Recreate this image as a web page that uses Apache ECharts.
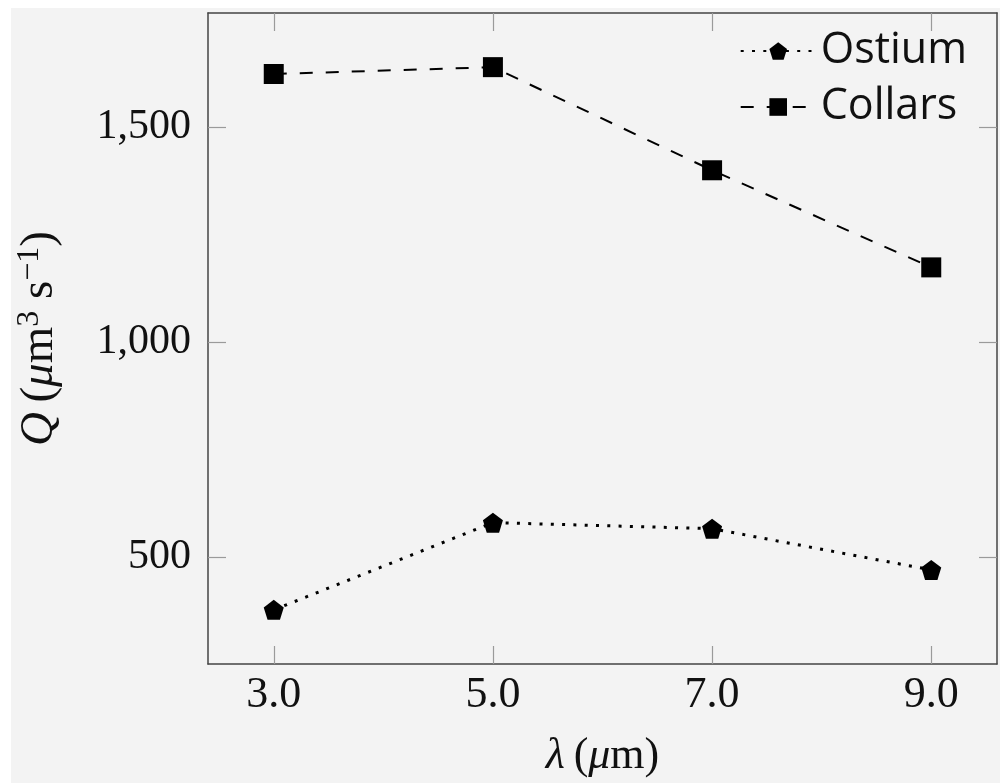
<!DOCTYPE html>
<html>
<head>
<meta charset="utf-8">
<script src="https://cdn.jsdelivr.net/npm/echarts@6/dist/echarts.min.js"></script>
<style>
html,body{margin:0;padding:0;background:#ffffff;}
#chart{width:1000px;height:783px;}
</style>
</head>
<body>
<div id="chart"></div>
<script>
// Data
const lambdaValues = [3, 5, 7, 9];
const ostium = [377, 580, 566, 470];
const collars = [1624, 1640, 1400, 1174];
const xTicks = [3, 5, 7, 9];
const yTicks = [500, 1000, 1500];
const seriesNames = ['Ostium', 'Collars'];

const pentagon = 'path://M0,-1 L0.951,-0.309 L0.588,0.809 L-0.588,0.809 L-0.951,-0.309 Z';
const serif = 'Liberation Serif';
const fmtY = v => v.toLocaleString('en-US');
const fmtX = v => Number(v).toFixed(1);

const xMin = 2.4, xMax = 9.6, yMin = 251, yMax = 1766;

function pairs(xs, ys){ return xs.map((x,i)=>[x, ys[i]]); }

const tickStyle = {show:true, inside:true, length:18, lineStyle:{color:'#9a9a9a', width:1.2}};
const lineAx = {show:true, lineStyle:{color:'#444', width:1.5}};

const chart = echarts.init(document.getElementById('chart'), null, {renderer:'canvas'});
chart.setOption({
  backgroundColor:'#ffffff',
  animation:false,
  graphic:[{type:'rect', shape:{x:11, y:8, width:989, height:775}, style:{fill:'#f3f3f3'}, z:-10, silent:true}],
  grid:{left:208, top:13, width:789, height:654, containLabel:false},
  legend:{
    data:seriesNames,
    orient:'vertical',
    right:28, top:24,
    itemWidth:75, itemHeight:22, itemGap:12,
    textStyle:{fontFamily:'Open Sans', fontSize:43, color:'#111', lineHeight:44, padding:[0,0,0,0]},
  },
  xAxis:[{
    type:'value', min:xMin, max:xMax, position:'bottom',
    axisLine:lineAx, splitLine:{show:false},
    axisTick:Object.assign({customValues:xTicks}, tickStyle),
    axisLabel:{customValues:xTicks, formatter:fmtX, fontFamily:serif, fontSize:44, color:'#111', margin:9},
    name:'{i|λ}\u2009({i|μ}m)', nameLocation:'middle', nameGap:70,
    nameTextStyle:{fontFamily:serif, fontSize:44, color:'#111', rich:{i:{fontFamily:serif, fontStyle:'italic', fontSize:44, color:'#111'}}}
  },{
    type:'value', min:xMin, max:xMax, position:'top',
    axisLine:lineAx, splitLine:{show:false},
    axisTick:Object.assign({customValues:xTicks}, tickStyle),
    axisLabel:{show:false}
  }],
  yAxis:[{
    type:'value', min:yMin, max:yMax, position:'left',
    axisLine:lineAx, splitLine:{show:false},
    axisTick:Object.assign({customValues:yTicks}, tickStyle),
    axisLabel:{customValues:yTicks, formatter:fmtY, fontFamily:serif, fontSize:42, color:'#111', margin:17},
    name:'{i|Q}\u2009({i|μ}m{s|3} s{s|−1})', nameLocation:'middle', nameGap:142, nameRotate:90,
    nameTextStyle:{fontFamily:serif, fontSize:47, color:'#111', lineHeight:52,
      rich:{i:{fontFamily:serif, fontStyle:'italic', fontSize:47, color:'#111'},
            s:{fontFamily:serif, fontSize:32, color:'#111', verticalAlign:'top', lineHeight:52}}}
  },{
    type:'value', min:yMin, max:yMax, position:'right',
    axisLine:lineAx, splitLine:{show:false},
    axisTick:Object.assign({customValues:yTicks}, tickStyle),
    axisLabel:{show:false}
  }],
  series:[{
    name:seriesNames[0], type:'line', data:pairs(lambdaValues, ostium),
    symbol:pentagon, symbolSize:20,
    itemStyle:{color:'#000'},
    lineStyle:{color:'#000', width:3, type:[3,8.3]},
    z:3
  },{
    name:seriesNames[1], type:'line', data:pairs(lambdaValues, collars),
    symbol:'rect', symbolSize:20,
    itemStyle:{color:'#000'},
    lineStyle:{color:'#000', width:2, type:[13,13]},
    z:3
  }]
});
</script>
</body>
</html>
